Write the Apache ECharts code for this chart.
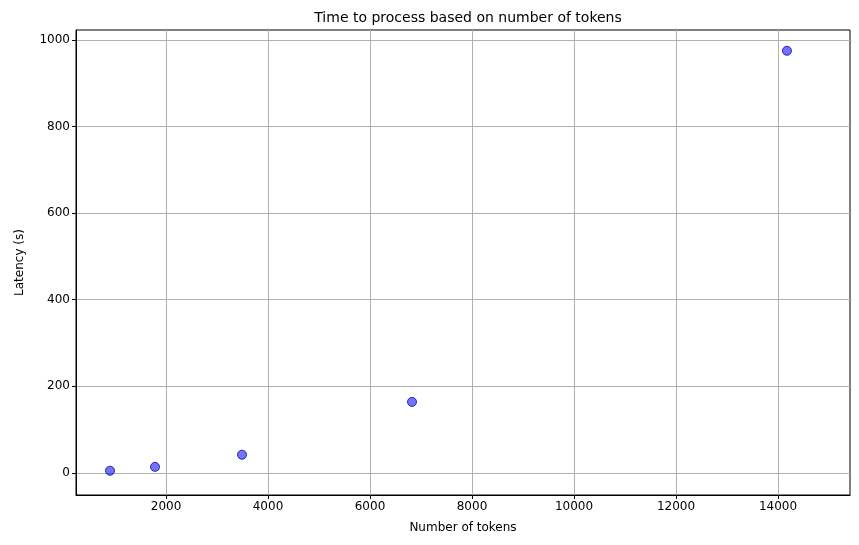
<!DOCTYPE html>
<html>
<head>
<meta charset="utf-8">
<script src="https://cdn.jsdelivr.net/npm/echarts@6/dist/echarts.min.js"></script>
<style>html,body{margin:0;padding:0;background:#fff}#main{width:859px;height:545px}</style>
</head>
<body>
<div id="main"></div>
<script>
// token counts and latency
const tokens = [902, 1784, 3490, 6824, 14176];
const latency = [5, 14, 42, 164, 975];
const xTicks = [2000, 4000, 6000, 8000, 10000, 12000, 14000];
const yTicks = [0, 200, 400, 600, 800, 1000];

const chart = echarts.init(document.getElementById('main'));
const font = 'DejaVu Sans';
chart.setOption({
  animation: false,
  title: {
    text: 'Time to process based on number of tokens',
    left: 463, top: 6, textAlign: 'center',
    textStyle: { fontFamily: font, fontSize: 14, fontWeight: 'normal', color: '#000' }
  },
  grid: { left: 76, right: 9, top: 30, bottom: 50, show: true, borderColor: '#000', borderWidth: 1 },
  xAxis: {
    type: 'value', min: 235, max: 15412,
    name: 'Number of tokens', nameLocation: 'middle', nameGap: 27,
    nameTextStyle: { fontFamily: font, fontSize: 12, color: '#000' },
    axisLine: { show: true, onZero: false, lineStyle: { color: '#000' } },
    axisTick: { show: true, customValues: xTicks, length: 4, lineStyle: { color: '#000' } },
    axisLabel: { customValues: xTicks, formatter: v => String(v), fontFamily: font, fontSize: 12, color: '#000', margin: 6 },
    splitLine: { show: true, lineStyle: { color: '#b0b0b0' } }
  },
  yAxis: {
    type: 'value', min: -51, max: 1023,
    name: 'Latency (s)', nameLocation: 'middle', nameGap: 50, nameRotate: 90,
    nameTextStyle: { fontFamily: font, fontSize: 12, color: '#000' },
    axisLine: { show: true, onZero: false, lineStyle: { color: '#000' } },
    axisTick: { show: true, customValues: yTicks, length: 4, lineStyle: { color: '#000' } },
    axisLabel: { customValues: yTicks, formatter: v => String(v), fontFamily: font, fontSize: 12, color: '#000', margin: 6 },
    splitLine: { show: true, lineStyle: { color: '#b0b0b0' } }
  },
  series: [{
    type: 'scatter',
    symbolSize: 9,
    data: tokens.map((t, i) => [t, latency[i]]),
    itemStyle: { color: 'rgba(0,0,255,0.55)', borderColor: 'rgba(0,0,160,0.8)', borderWidth: 1, opacity: 1 }
  }]
});
</script>
</body>
</html>
